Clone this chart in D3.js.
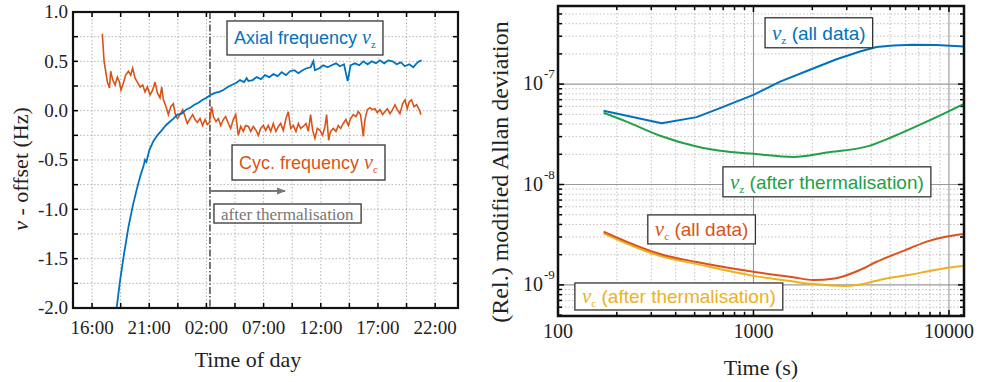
<!DOCTYPE html>
<html>
<head>
<meta charset="utf-8">
<script src="https://cdnjs.cloudflare.com/ajax/libs/d3/7.8.5/d3.min.js"></script>
<style>
body { margin: 0; background: #fff; }
svg { display: block; }
</style>
</head>
<body>
<svg width="984" height="382"></svg>
<script>
// ---- left panel data (time in hours after 16:00, offset in Hz)
var timeTicks = [0, 5, 10, 15, 20, 25, 30];
var timeLabels = ["16:00", "21:00", "02:00", "07:00", "12:00", "17:00", "22:00"];
var offsetTicks = [1, 0.5, 0, -0.5, -1, -1.5, -2];
var offsetLabels = ["1.0", "0.5", "0.0", "-0.5", "-1.0", "-1.5", "-2.0"];
var thermalStart = 10.31;
var thermalArrowEnd = 16.87;

var axial = [[2.16,-1.99],[2.45,-1.72],[2.80,-1.45],[3.18,-1.18],[3.55,-0.97],[3.90,-0.80],
	[4.25,-0.65],[4.50,-0.56],[4.63,-0.50],[4.75,-0.52],[5.01,-0.40],[5.36,-0.31],[5.71,-0.25],
	[6.09,-0.20],[6.44,-0.15],[6.82,-0.11],[7.11,-0.08],[7.46,-0.04],[7.84,-0.03],[8.22,0.01],
	[8.57,0.03],[8.95,0.06],[9.30,0.08],[9.67,0.11],[10.02,0.13],[10.37,0.16],[10.75,0.18],
	[11.13,0.19],[11.48,0.21],[11.86,0.24],[12.21,0.26],[12.59,0.28],[12.94,0.31],[13.29,0.29],
	[13.52,0.33],[13.67,0.30],[14.04,0.31],[14.39,0.34],[14.77,0.32],[15.12,0.36],[15.50,0.34],
	[15.85,0.37],[16.23,0.35],[16.58,0.39],[16.96,0.36],[17.31,0.40],[17.69,0.41],[18.04,0.38],
	[18.41,0.41],[18.76,0.43],[19.11,0.44],[19.35,0.50],[19.49,0.41],[19.87,0.43],[20.22,0.46],
	[20.60,0.44],[20.95,0.46],[21.33,0.48],[21.68,0.45],[22.03,0.47],[22.35,0.30],[22.61,0.46],
	[22.99,0.48],[23.37,0.46],[23.72,0.50],[24.10,0.47],[24.45,0.50],[24.83,0.48],[25.17,0.51],
	[25.55,0.48],[25.90,0.51],[26.28,0.50],[26.63,0.47],[27.01,0.49],[27.36,0.45],[27.74,0.47],
	[28.09,0.44],[28.38,0.48],[28.61,0.50],[28.82,0.51]];

var cyc = [[0.90,0.78],[1.05,0.50],[1.19,0.40],[1.34,0.29],[1.52,0.23],[1.63,0.40],[1.81,0.31],
	[2.01,0.26],[2.21,0.34],[2.39,0.29],[2.53,0.21],[2.74,0.28],[2.94,0.36],[3.18,0.40],[3.38,0.36],
	[3.55,0.43],[3.76,0.33],[3.96,0.29],[4.20,0.24],[4.43,0.26],[4.63,0.19],[4.84,0.24],[5.07,0.16],
	[5.30,0.21],[5.51,0.29],[5.71,0.18],[5.94,0.13],[6.09,0.24],[6.24,0.11],[6.47,0.04],[6.67,-0.04],
	[6.88,0.04],[7.11,0.07],[7.26,-0.03],[7.46,-0.08],[7.69,-0.04],[7.93,0.01],[8.13,-0.06],
	[8.33,-0.13],[8.57,-0.08],[8.80,-0.04],[9.00,-0.09],[9.21,-0.12],[9.44,-0.08],[9.67,-0.15],
	[9.88,-0.09],[10.08,-0.14],[10.26,-0.12],[10.46,0.04],[10.61,-0.06],[10.84,-0.11],[11.04,-0.08],
	[11.25,-0.15],[11.48,-0.09],[11.68,-0.06],[11.92,-0.13],[12.12,-0.18],[12.35,-0.09],[12.56,-0.04],
	[12.79,-0.25],[13.00,-0.16],[13.23,-0.21],[13.43,-0.15],[13.67,-0.16],[13.87,-0.21],[14.10,-0.16],
	[14.34,-0.20],[14.54,-0.25],[14.74,-0.18],[14.98,-0.15],[15.18,-0.20],[15.41,-0.15],[15.62,-0.21],
	[15.85,-0.13],[16.08,-0.21],[16.29,-0.16],[16.49,-0.13],[16.72,-0.20],[16.96,-0.08],[17.16,-0.01],
	[17.37,-0.18],[17.60,-0.15],[17.83,-0.21],[18.04,-0.13],[18.24,-0.18],[18.47,-0.16],[18.71,-0.13],
	[18.91,-0.21],[19.11,-0.04],[19.29,-0.20],[19.49,-0.28],[19.70,-0.18],[19.93,-0.20],[20.16,-0.25],
	[20.37,-0.16],[20.51,-0.04],[20.69,-0.30],[20.86,-0.21],[21.10,-0.18],[21.33,-0.21],[21.53,-0.15],
	[21.74,-0.18],[21.97,-0.13],[22.20,-0.09],[22.41,-0.15],[22.61,-0.08],[22.84,-0.04],[23.08,-0.06],
	[23.28,-0.01],[23.48,-0.04],[23.72,-0.26],[23.86,-0.09],[24.07,0.01],[24.30,0.03],[24.53,0.01],
	[24.74,0.02],[24.94,-0.02],[25.17,0.01],[25.41,-0.04],[25.61,-0.01],[25.82,0.02],[26.05,-0.03],
	[26.28,0.01],[26.49,0.06],[26.69,0.01],[26.92,-0.03],[27.16,0.07],[27.36,0.11],[27.56,0.02],
	[27.74,0.09],[27.94,0.11],[28.15,0.04],[28.38,0.06],[28.61,0.01],[28.76,-0.04]];

// ---- right panel data (tau in s, relative modified Allan deviation)
var tauTicks = [100, 1000, 10000];
var devTicks = [1e-9, 1e-8, 1e-7];
var devExp = ["-9", "-8", "-7"];
var nuzAll = [[171,5.42e-8],[339,4.08e-8],[512,4.69e-8],[674,5.77e-8],[1000,7.82e-8],
	[1368,1.06e-7],[1945,1.39e-7],[2660,1.77e-7],[3508,2.11e-7],[4265,2.34e-7],[5188,2.43e-7],
	[6566,2.47e-7],[8650,2.45e-7],[11940,2.37e-7]];
var nuzTherm = [[171,5.18e-8],[224,4.23e-8],[333,3.06e-8],[512,2.39e-8],[730,2.13e-8],[1000,2.02e-8],
	[1600,1.88e-8],[2366,2.08e-8],[3945,2.44e-8],[5188,3.01e-8],[7690,4.23e-8],[11940,6.37e-8]];
var nucAll = [[171,3.39e-9],[224,2.70e-9],[333,2.03e-9],[512,1.69e-9],[1000,1.35e-9],
	[1600,1.19e-9],[2023,1.12e-9],[2600,1.16e-9],[3508,1.41e-9],[4265,1.70e-9],[5188,1.99e-9],
	[6323,2.32e-9],[7690,2.70e-9],[9350,2.98e-9],[11940,3.21e-9]];
var nucTherm = [[171,3.27e-9],[333,1.94e-9],[512,1.61e-9],[1000,1.23e-9],[1600,1.08e-9],
	[2023,1.02e-9],[2878,9.75e-10],[3508,1.01e-9],[4265,1.10e-9],[5188,1.19e-9],[6323,1.26e-9],
	[7690,1.36e-9],[9350,1.46e-9],[11940,1.54e-9]];

var blue = "#0072bd", orange = "#d95319", yellow = "#edb120", green = "#22a046", grey = "#777";
var SERIF = "'Liberation Serif', 'DejaVu Serif', serif";
var SANS = "'Liberation Sans', Arial, sans-serif";

var svg = d3.select("svg").style("font-family", SERIF);

// helper: boxed label, parts = [{t, it, sub}]
function note(g, px, py, h, color, parts, size, family) {
	var gg = g.append("g");
	var rect = gg.append("rect")
		.attr("x", px).attr("y", py).attr("height", h)
		.attr("fill", "#fff").attr("stroke", "#333").attr("stroke-width", 1.3);
	var t = gg.append("text")
		.attr("x", px + 7).attr("y", py + h / 2).attr("dy", "0.36em")
		.attr("fill", color)
		.style("font-family", family).style("font-size", size + "px");
	parts.forEach(function(p) {
		var s = t.append("tspan").text(p.t);
		if (p.it) s.style("font-family", SERIF).style("font-style", "italic").style("font-size", (size + 2) + "px");
		if (p.sub) s.style("font-family", SERIF).attr("dy", 4).style("font-size", (size * 0.6) + "px");
		if (p.up) s.attr("dy", -4);
	});
	rect.attr("width", t.node().getBBox().width + 14);
}

// ================= left panel
var x = d3.scaleLinear().domain([-1.667, 32]).range([73, 458]);
var y = d3.scaleLinear().domain([-2, 1]).range([308, 12]);

var left = svg.append("g");
left.append("clipPath").attr("id", "clipL").append("rect")
	.attr("x", 73).attr("y", 12).attr("width", 385).attr("height", 296);

var gridX = d3.range(0, 31, 2.5), gridY = d3.range(-2, 1.01, 0.25);
left.selectAll(".gx").data(gridX).enter().append("line")
	.attr("x1", x).attr("x2", x).attr("y1", 12).attr("y2", 308)
	.attr("stroke", "#aaa").attr("stroke-width", 0.9).attr("stroke-dasharray", "1.5,2");
left.selectAll(".gy").data(gridY).enter().append("line")
	.attr("y1", y).attr("y2", y).attr("x1", 73).attr("x2", 458)
	.attr("stroke", "#aaa").attr("stroke-width", 0.9).attr("stroke-dasharray", "1.5,2");

// ticks inward on all four sides
gridX.forEach(function(v) {
	left.append("line").attr("x1", x(v)).attr("x2", x(v)).attr("y1", 308).attr("y2", 303).attr("stroke", "#000").attr("stroke-width", 1.5);
	left.append("line").attr("x1", x(v)).attr("x2", x(v)).attr("y1", 12).attr("y2", 17).attr("stroke", "#000").attr("stroke-width", 1.5);
});
gridY.forEach(function(v) {
	left.append("line").attr("y1", y(v)).attr("y2", y(v)).attr("x1", 73).attr("x2", 78).attr("stroke", "#000").attr("stroke-width", 1.5);
	left.append("line").attr("y1", y(v)).attr("y2", y(v)).attr("x1", 458).attr("x2", 453).attr("stroke", "#000").attr("stroke-width", 1.5);
});

// thermalisation marker
left.append("line")
	.attr("x1", x(thermalStart)).attr("x2", x(thermalStart)).attr("y1", 12).attr("y2", 308)
	.attr("stroke", "#555").attr("stroke-width", 1.6).attr("stroke-dasharray", "7,2,1.5,2");

var line = d3.line().x(function(d) { return x(d[0]); }).y(function(d) { return y(d[1]); });
left.append("path").datum(cyc).attr("d", line).attr("fill", "none")
	.attr("stroke", orange).attr("stroke-width", 1.6).attr("clip-path", "url(#clipL)");
left.append("path").datum(axial).attr("d", line).attr("fill", "none")
	.attr("stroke", blue).attr("stroke-width", 1.8).attr("clip-path", "url(#clipL)");

// arrow
svg.append("defs").append("marker").attr("id", "arr")
	.attr("viewBox", "0 0 10 10").attr("refX", 9).attr("refY", 5)
	.attr("markerWidth", 4).attr("markerHeight", 4).attr("orient", "auto")
	.attr("markerUnits", "strokeWidth")
	.append("path").attr("d", "M0,1L10,5L0,9Z").attr("fill", grey);
left.append("line")
	.attr("x1", x(thermalStart)).attr("x2", x(thermalArrowEnd))
	.attr("y1", y(-0.814)).attr("y2", y(-0.814))
	.attr("stroke", grey).attr("stroke-width", 2.2).attr("marker-end", "url(#arr)");

left.append("rect").attr("x", 73).attr("y", 12).attr("width", 385).attr("height", 296)
	.attr("fill", "none").attr("stroke", "#111").attr("stroke-width", 2.2);

left.selectAll(".tl").data(timeTicks).enter().append("text")
	.attr("x", x).attr("y", 334)
	.attr("text-anchor", "middle").style("font-size", "19px").attr("fill", "#222")
	.text(function(d, i) { return timeLabels[i]; });
left.selectAll(".ol").data(offsetTicks).enter().append("text")
	.attr("x", 68).attr("y", y).attr("dy", "0.33em")
	.attr("text-anchor", "end").style("font-size", "19px").attr("fill", "#222")
	.text(function(d, i) { return offsetLabels[i]; });

left.append("text").attr("x", 248).attr("y", 367)
	.attr("text-anchor", "middle").style("font-size", "22px").attr("fill", "#222").text("Time of day");
var yl = left.append("text")
	.attr("transform", "translate(28,169) rotate(-90)")
	.attr("text-anchor", "middle").style("font-size", "22px").attr("fill", "#222");
yl.append("tspan").style("font-style", "italic").text("ν");
yl.append("tspan").text(" - offset (Hz)");

note(left, x(11.80), y(0.909), 34, blue,
	[{t: "Axial frequency "}, {t: "ν", it: true}, {t: "z", sub: true}], 18, SANS);
note(left, x(12.24), y(-0.348), 35, orange,
	[{t: "Cyc. frequency "}, {t: "ν", it: true}, {t: "c", sub: true}], 18, SANS);
note(left, x(10.66), y(-0.946), 19, grey,
	[{t: "after thermalisation"}], 17, SERIF);

// ================= right panel
var xr = d3.scaleLog().domain([100, 11940]).range([558, 964]);
var yr = d3.scaleLog().domain([4.9e-10, 6e-7]).range([316, 6]);

var right = svg.append("g");
right.append("clipPath").attr("id", "clipR").append("rect")
	.attr("x", 558).attr("y", 6).attr("width", 406).attr("height", 310);

function isMajor(v) { return Math.abs(Math.log10(v) - Math.round(Math.log10(v))) < 1e-6; }
var tx = xr.ticks(), ty = yr.ticks();

right.selectAll(".gx").data(tx).enter().append("line")
	.attr("x1", xr).attr("x2", xr).attr("y1", 6).attr("y2", 316)
	.attr("stroke", function(d) { return isMajor(d) ? "#999" : "#bbb"; })
	.attr("stroke-width", function(d) { return isMajor(d) ? 1.1 : 0.9; })
	.attr("stroke-dasharray", function(d) { return isMajor(d) ? null : "1.5,2"; });
right.selectAll(".gy").data(ty).enter().append("line")
	.attr("y1", yr).attr("y2", yr).attr("x1", 558).attr("x2", 964)
	.attr("stroke", function(d) { return isMajor(d) ? "#999" : "#bbb"; })
	.attr("stroke-width", function(d) { return isMajor(d) ? 1.1 : 0.9; })
	.attr("stroke-dasharray", function(d) { return isMajor(d) ? null : "1.5,2"; });

tx.forEach(function(v) {
	var l = isMajor(v) ? 6 : 4;
	right.append("line").attr("x1", xr(v)).attr("x2", xr(v)).attr("y1", 316).attr("y2", 316 - l).attr("stroke", "#000").attr("stroke-width", 1.5);
	right.append("line").attr("x1", xr(v)).attr("x2", xr(v)).attr("y1", 6).attr("y2", 6 + l).attr("stroke", "#000").attr("stroke-width", 1.5);
});
ty.forEach(function(v) {
	var l = isMajor(v) ? 6 : 4;
	right.append("line").attr("y1", yr(v)).attr("y2", yr(v)).attr("x1", 558).attr("x2", 558 + l).attr("stroke", "#000").attr("stroke-width", 1.5);
	right.append("line").attr("y1", yr(v)).attr("y2", yr(v)).attr("x1", 964).attr("x2", 964 - l).attr("stroke", "#000").attr("stroke-width", 1.5);
});

var smooth = d3.line().curve(d3.curveMonotoneX)
	.x(function(d) { return xr(d[0]); }).y(function(d) { return yr(d[1]); });
var straight = d3.line()
	.x(function(d) { return xr(d[0]); }).y(function(d) { return yr(d[1]); });
[[nuzTherm, green, smooth], [nuzAll, blue, straight], [nucTherm, yellow, smooth], [nucAll, orange, smooth]].forEach(function(s) {
	right.append("path").datum(s[0]).attr("d", s[2]).attr("fill", "none")
		.attr("stroke", s[1]).attr("stroke-width", 2).attr("stroke-linejoin", "round")
		.attr("clip-path", "url(#clipR)");
});

right.append("rect").attr("x", 558).attr("y", 6).attr("width", 406).attr("height", 310)
	.attr("fill", "none").attr("stroke", "#111").attr("stroke-width", 2.5);

right.selectAll(".tl").data(tauTicks).enter().append("text")
	.attr("x", xr).attr("y", 338)
	.attr("text-anchor", "middle").style("font-size", "20px").attr("fill", "#222")
	.text(function(d) { return d; });
devTicks.forEach(function(v, i) {
	right.append("text")
		.attr("x", 543).attr("y", yr(v) + 6).attr("text-anchor", "end")
		.style("font-size", "20px").attr("fill", "#222").text("10");
	right.append("text")
		.attr("x", 544).attr("y", yr(v) - 6)
		.style("font-size", "13px").attr("fill", "#222").text(devExp[i]);
});

right.append("text").attr("x", 761).attr("y", 375)
	.attr("text-anchor", "middle").style("font-size", "22px").attr("fill", "#222").text("Time (s)");
right.append("text")
	.attr("transform", "translate(508,172) rotate(-90)")
	.attr("text-anchor", "middle").style("font-size", "24px").attr("fill", "#222")
	.text("(Rel.) modified Allan deviation");

note(right, xr(1146), yr(4.58e-7), 30, blue,
	[{t: "ν", it: true}, {t: "z", sub: true}, {t: " (all data)", up: true}], 19, SANS);
note(right, xr(698), yr(1.50e-8), 30, green,
	[{t: "ν", it: true}, {t: "z", sub: true}, {t: " (after thermalisation)", up: true}], 19, SANS);
note(right, xr(288), yr(4.98e-9), 29, orange,
	[{t: "ν", it: true}, {t: "c", sub: true}, {t: " (all data)", up: true}], 19, SANS);
note(right, xr(122), yr(1.045e-9), 27, yellow,
	[{t: "ν", it: true}, {t: "c", sub: true}, {t: " (after thermalisation)", up: true}], 19, SANS);
</script>
</body>
</html>
